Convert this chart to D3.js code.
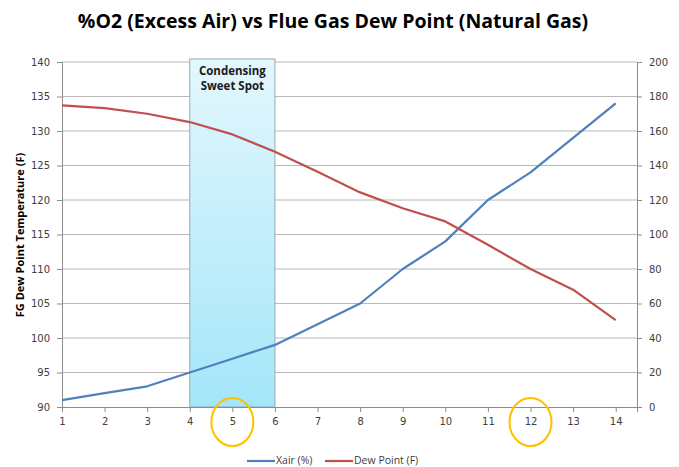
<!DOCTYPE html>
<html>
<head>
<meta charset="utf-8">
<script src="https://cdn.jsdelivr.net/npm/d3@7"></script>
<style>
  body { margin: 0; background: #fff; }
  text { font-family: "Open Sans", "Noto Sans", sans-serif; }
</style>
</head>
<body>
<script>
// data
const o2Pct = [1, 2, 3, 4, 5, 6, 7, 8, 9, 10, 11, 12, 13, 14];
const xairPct = [4, 8, 12, 20, 28, 36, 48, 60, 80, 96, 120, 136, 156, 176];
const dewPointF = [133.7, 133.3, 132.5, 131.3, 129.5, 127.0, 124.1, 121.1, 118.8, 116.9, 113.5, 110.0, 107.0, 102.6];
const leftTicks = [90, 95, 100, 105, 110, 115, 120, 125, 130, 135, 140];
const rightTicks = [0, 20, 40, 60, 80, 100, 120, 140, 160, 180, 200];
const sweetSpot = [4, 6];
const circled = [5, 12];

const width = 679, height = 467;
const plot = { left: 62, right: 637, top: 62, bottom: 407 };

const svg = d3.select('body').append('svg')
  .attr('width', width)
  .attr('height', height);

const x = d3.scaleLinear().domain([1, 14.5]).range([plot.left, plot.right]);
const yL = d3.scaleLinear().domain([90, 140]).range([plot.bottom, plot.top]);
const yR = d3.scaleLinear().domain([0, 200]).range([plot.bottom, plot.top]);

// title
svg.append('text')
  .attr('x', 333)
  .attr('y', 28)
  .attr('text-anchor', 'middle')
  .style('font-size', '19.5px')
  .style('font-weight', 'bold')
  .text('%O2 (Excess Air) vs Flue Gas Dew Point (Natural Gas)');

// gradient for the highlight box
const grad = svg.append('defs').append('linearGradient')
  .attr('id', 'spot')
  .attr('x1', 0).attr('y1', 0).attr('x2', 0).attr('y2', 1);
grad.append('stop').attr('offset', '0%').attr('stop-color', '#e3f7fd');
grad.append('stop').attr('offset', '100%').attr('stop-color', '#a4e6f9');

// horizontal gridlines
svg.append('g')
  .selectAll('line')
  .data(leftTicks.slice(1))
  .join('line')
  .attr('x1', plot.left)
  .attr('x2', plot.right)
  .attr('y1', d => yL(d))
  .attr('y2', d => yL(d))
  .attr('stroke', '#b8b8b8')
  .attr('stroke-width', 1);

// sweet spot box
svg.append('rect')
  .attr('x', x(sweetSpot[0]))
  .attr('y', plot.top - 3)
  .attr('width', x(sweetSpot[1]) - x(sweetSpot[0]))
  .attr('height', plot.bottom - plot.top + 3)
  .attr('fill', 'url(#spot)')
  .attr('stroke', '#98aab2')
  .attr('stroke-width', 1);

const boxMid = (x(sweetSpot[0]) + x(sweetSpot[1])) / 2;
svg.append('text')
  .attr('x', boxMid)
  .attr('y', 75)
  .attr('text-anchor', 'middle')
  .style('font-size', '11.5px')
  .style('font-weight', 'bold')
  .attr('fill', '#1a1a1a')
  .text('Condensing');
svg.append('text')
  .attr('x', boxMid)
  .attr('y', 90)
  .attr('text-anchor', 'middle')
  .style('font-size', '11.5px')
  .style('font-weight', 'bold')
  .attr('fill', '#1a1a1a')
  .text('Sweet Spot');

// axes
const axisColor = '#8c8c8c';
const labelColor = '#404040';

const leftAxis = svg.append('g')
  .attr('transform', `translate(${plot.left},0)`)
  .call(d3.axisLeft(yL).tickValues(leftTicks).tickSize(5).tickPadding(7));

const rightAxis = svg.append('g')
  .attr('transform', `translate(${plot.right},0)`)
  .call(d3.axisRight(yR).tickValues(rightTicks).tickSize(5).tickPadding(7));

const bottomAxis = svg.append('g')
  .attr('transform', `translate(0,${plot.bottom})`)
  .call(d3.axisBottom(x).tickValues(o2Pct).tickFormat(d3.format('d')).tickSize(5).tickPadding(6));

[leftAxis, rightAxis, bottomAxis].forEach(g => {
  g.select('.domain').attr('stroke', axisColor);
  g.selectAll('.tick line').attr('stroke', axisColor);
  g.selectAll('.tick text')
    .attr('fill', labelColor)
    .style('font-family', '"DejaVu Sans", sans-serif')
    .style('font-size', '10px');
});

// y axis title
svg.append('text')
  .attr('transform', 'translate(24,235) rotate(-90)')
  .attr('text-anchor', 'middle')
  .style('font-size', '11px')
  .style('font-weight', 'bold')
  .text('FG Dew Point Temperature (F)');

// lines
const xairLine = d3.line()
  .x((d, i) => x(o2Pct[i]))
  .y(d => yR(d));
const dewLine = d3.line()
  .x((d, i) => x(o2Pct[i]))
  .y(d => yL(d));

svg.append('path')
  .datum(xairPct)
  .attr('d', xairLine)
  .attr('fill', 'none')
  .attr('stroke', '#4f81bd')
  .attr('stroke-width', 2.25)
  .attr('stroke-linejoin', 'round');

svg.append('path')
  .datum(dewPointF)
  .attr('d', dewLine)
  .attr('fill', 'none')
  .attr('stroke', '#c0504d')
  .attr('stroke-width', 2.25)
  .attr('stroke-linejoin', 'round');

// circled labels
svg.append('g')
  .selectAll('ellipse')
  .data(circled)
  .join('ellipse')
  .attr('cx', d => x(d))
  .attr('cy', 422)
  .attr('rx', 21)
  .attr('ry', 24)
  .attr('fill', 'none')
  .attr('stroke', '#ffc000')
  .attr('stroke-width', 2);

// legend
const legend = svg.append('g').attr('transform', 'translate(0,460)');
const legendItems = [
  { label: 'Xair (%)', color: '#4f81bd', x: 247 },
  { label: 'Dew Point (F)', color: '#c0504d', x: 325 }
];
legendItems.forEach(item => {
  legend.append('line')
    .attr('x1', item.x)
    .attr('x2', item.x + 28)
    .attr('y1', 1)
    .attr('y2', 1)
    .attr('stroke', item.color)
    .attr('stroke-width', 2.25);
  legend.append('text')
    .attr('x', item.x + 29)
    .attr('y', 4)
    .attr('fill', labelColor)
    .style('font-size', '10.5px')
    .text(item.label);
});
</script>
</body>
</html>
